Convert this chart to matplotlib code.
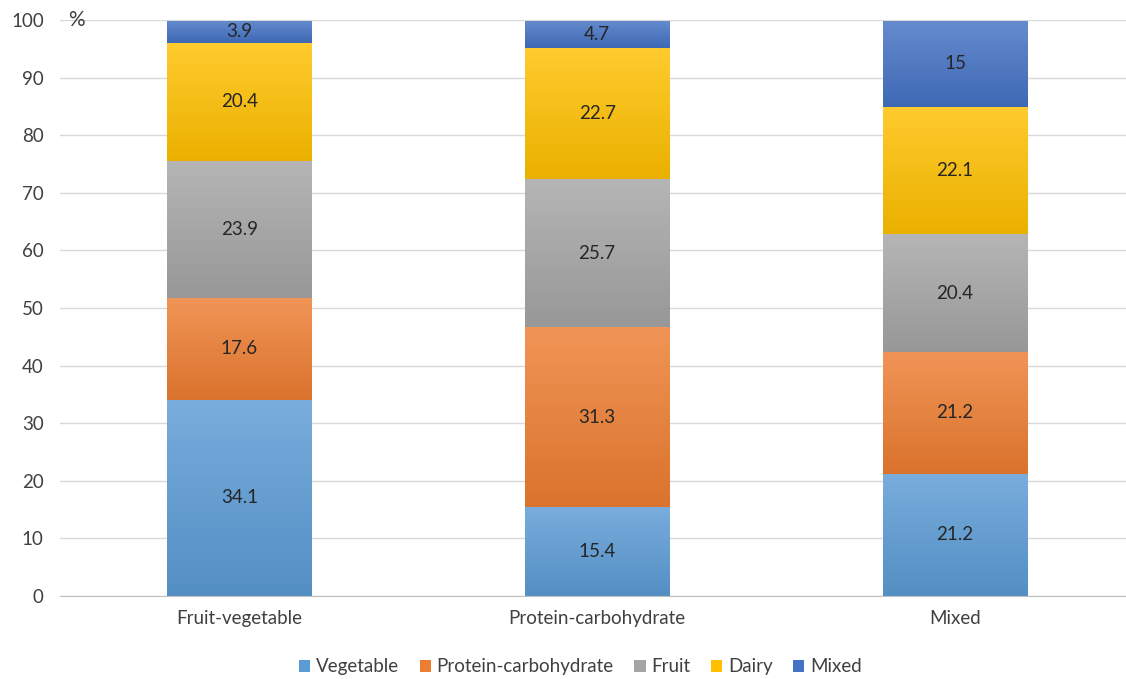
import numpy as np
import matplotlib.pyplot as plt
from matplotlib.colors import to_rgb

plt.rcParams['font.family'] = ['Lato', 'DejaVu Sans']

categories = ['Fruit-vegetable', 'Protein-carbohydrate', 'Mixed']
series = ['Vegetable', 'Protein-carbohydrate', 'Fruit', 'Dairy', 'Mixed']
vegetable = [34.1, 15.4, 21.2]
protein = [17.6, 31.3, 21.2]
fruit = [23.9, 25.7, 20.4]
dairy = [20.4, 22.7, 22.1]
mixed = [3.9, 4.7, 15]
labels = [['34.1', '15.4', '21.2'],
          ['17.6', '31.3', '21.2'],
          ['23.9', '25.7', '20.4'],
          ['20.4', '22.7', '22.1'],
          ['3.9', '4.7', '15']]

colors = ['#5B9BD5', '#ED7D31', '#A5A5A5', '#FFC000', '#4472C4']


def shade(c, f):
    c = np.array(to_rgb(c))
    if f > 0:
        return c + (1 - c) * f
    return c * (1 + f)


fig = plt.figure(figsize=(11.26, 6.79), dpi=100)
ax = fig.add_axes([0.0537, 0.1222, 0.9463, 0.8483])

x = np.arange(len(categories))
width = 0.405
bottom = np.zeros(len(categories))
handles = []
for i, vals in enumerate([vegetable, protein, fruit, dairy, mixed]):
    bars = ax.bar(x, vals, width, bottom=bottom, color=colors[i],
                  label=series[i], zorder=2)
    handles.append(bars)
    top = shade(colors[i], 0.18)
    bot = shade(colors[i], -0.08)
    grad = np.linspace(0, 1, 64)[:, None, None]
    img = top[None, None, :] * (1 - grad) + bot[None, None, :] * grad
    for j, b in enumerate(bars):
        x0, y0 = b.get_x(), b.get_y()
        w, h = b.get_width(), b.get_height()
        im = ax.imshow(img, extent=[x0, x0 + w, y0, y0 + h],
                       aspect='auto', zorder=2.5, origin='upper')
        im.set_clip_path(b)
        ax.text(x0 + w / 2, y0 + h / 2, labels[i][j], ha='center',
                va='center', fontsize=13.5, color='#262626', zorder=3)
    bottom += np.array(vals)

ax.set_xlim(-0.5, 2.478)
ax.set_ylim(0, 100)
ax.set_yticks(np.arange(0, 101, 10))
ax.set_xticks(x)
ax.set_xticklabels(categories, fontsize=13.5, color='#404040')
ax.tick_params(axis='y', labelsize=13.5, labelcolor='#404040', length=0, pad=12)
ax.tick_params(axis='x', length=0, pad=10)
ax.grid(axis='y', color='#D9D9D9', linewidth=1, zorder=0)
for s in ['top', 'right', 'left']:
    ax.spines[s].set_visible(False)
ax.spines['bottom'].set_color('#BFBFBF')
ax.text(0.007, 1.0, '%', transform=ax.transAxes, fontsize=15,
        color='#404040', ha='left', va='center')

ax.legend(handles=handles, loc='center', bbox_to_anchor=(0.488, -0.123),
          ncol=5, frameon=False, fontsize=13.5, handlelength=0.6,
          handleheight=0.6, handletextpad=0.3, columnspacing=1.1,
          labelcolor='#404040')

fig.savefig('out.png', dpi=100)
